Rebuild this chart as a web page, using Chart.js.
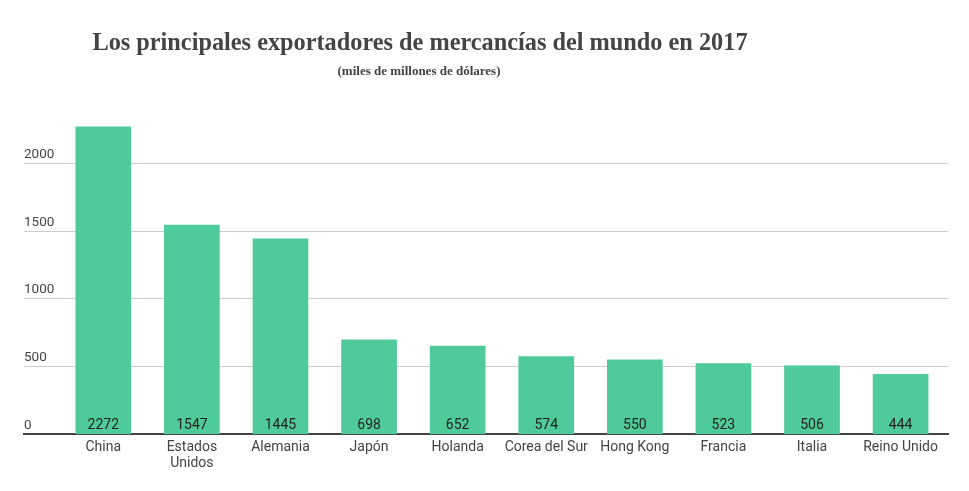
<!DOCTYPE html>
<html>
<head>
<meta charset="utf-8">
<script src="https://cdn.jsdelivr.net/npm/chart.js@4/dist/chart.umd.min.js"></script>
<style>
  html, body { margin: 0; padding: 0; background: #fff; }
  #wrap { position: relative; width: 969px; height: 491px; }
  #title { position: absolute; left: 0; width: 840px; top: 28px; text-align: center;
    font: bold 24.3px "Liberation Serif", "Times New Roman", serif; color: #444; }
  #subtitle { position: absolute; left: 0; width: 838px; top: 63px; text-align: center;
    font: bold 13px "Liberation Serif", "Times New Roman", serif; color: #444; }
  canvas { position: absolute; left: 0; top: 0; }
</style>
</head>
<body>
<div id="wrap">
  <canvas id="c" width="969" height="491" style="width:969px;height:491px"></canvas>
  <div id="title">Los principales exportadores de mercancías del mundo en 2017</div>
  <div id="subtitle">(miles de millones de dólares)</div>
</div>
<script>
const categories = ['China', ['Estados', 'Unidos'], 'Alemania', 'Japón', 'Holanda', 'Corea del Sur', 'Hong Kong', 'Francia', 'Italia', 'Reino Unido'];
const values = [2272, 1547, 1445, 698, 652, 574, 550, 523, 506, 444];
const yTicks = [0, 500, 1000, 1500, 2000];

const valueLabels = {
  id: 'valueLabels',
  afterDatasetsDraw(chart) {
    const ctx = chart.ctx;
    const meta = chart.getDatasetMeta(0);
    const y0 = chart.scales.y.getPixelForValue(0);
    ctx.save();
    ctx.font = '14px Roboto';
    ctx.fillStyle = '#222';
    ctx.textAlign = 'center';
    ctx.textBaseline = 'middle';
    meta.data.forEach((el, i) => {
      ctx.fillText(String(values[i]), el.x, y0 - 9);
    });
    ctx.restore();
  }
};

new Chart(document.getElementById('c'), {
  type: 'bar',
  data: {
    datasets: [{
      data: values.map((v, i) => ({ x: i, y: v })),
      backgroundColor: '#4ECA9B',
      borderWidth: 0,
      barThickness: 55
    }]
  },
  options: {
    responsive: false,
    animation: false,
    layout: { padding: { left: 24, right: 21, top: 96, bottom: 0 } },
    plugins: { legend: { display: false }, tooltip: { enabled: false } },
    scales: {
      x: {
        type: 'linear',
        min: -0.895,
        max: 9.535,
        offset: false,
        grid: { display: false, drawTicks: false },
        border: { display: true, color: '#444', width: 2 },
        afterBuildTicks(axis) { axis.ticks = categories.map((c, i) => ({ value: i })); },
        afterFit(scale) { scale.height = 56.7; },
        ticks: {
          autoSkip: false,
          maxRotation: 0,
          padding: 5,
          font: { family: 'Roboto', size: 14, lineHeight: 1.15 },
          color: '#444',
          callback: (v) => categories[v]
        }
      },
      y: {
        min: 0,
        max: 2500,
        afterBuildTicks(axis) { axis.ticks = yTicks.map(v => ({ value: v })); },
        afterFit(scale) { scale.width = 0; },
        border: { display: false },
        grid: {
          drawTicks: false,
          color: (c) => (c.tick && c.tick.value === 0) ? 'rgba(0,0,0,0)' : '#cccccc',
          lineWidth: 1
        },
        ticks: {
          mirror: true,
          padding: 0,
          labelOffset: -9,
          font: { family: 'Roboto', size: 13.5 },
          color: '#444',
          callback: (v) => String(v)
        }
      }
    }
  },
  plugins: [valueLabels]
});
</script>
</body>
</html>
